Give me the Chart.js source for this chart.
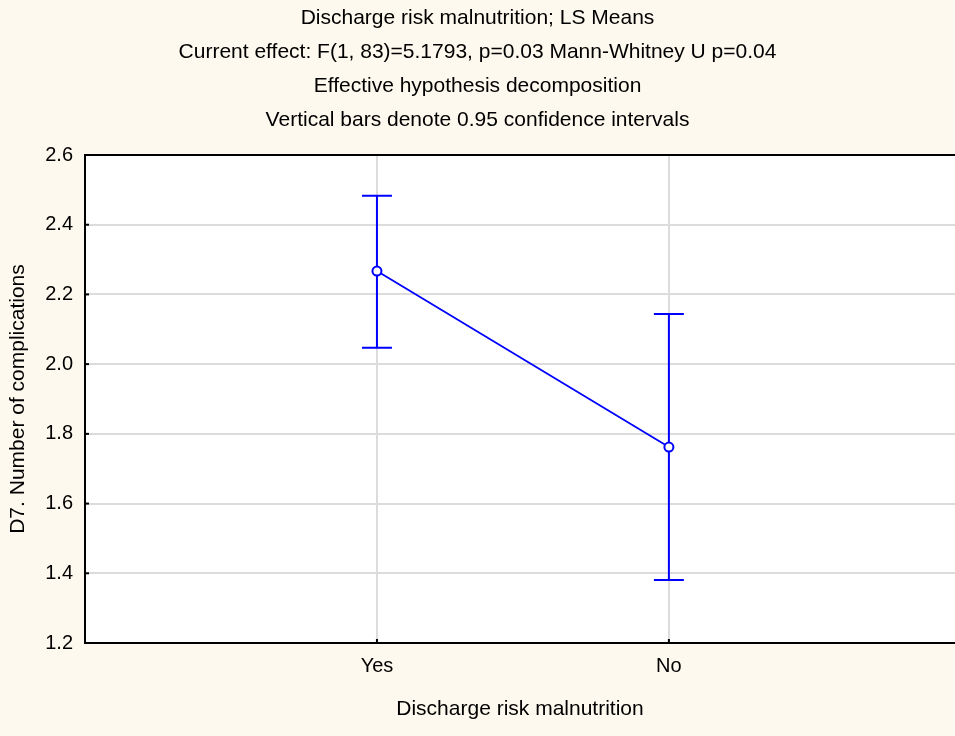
<!DOCTYPE html>
<html>
<head>
<meta charset="utf-8">
<title>Discharge risk malnutrition; LS Means</title>
<script src="https://cdn.jsdelivr.net/npm/chart.js@4/dist/chart.umd.min.js"></script>
<style>
  html, body { margin: 0; padding: 0; background: #fef9ee; }
  #wrap { width: 955px; height: 736px; }
</style>
</head>
<body>
<div id="wrap"><canvas id="lsMeans" width="955" height="736"></canvas></div>
<script>
// groups and LS means with 95% confidence limits
const categorias = ['Yes', 'No'];
const medias = [2.267, 1.762];
const limInferior = [2.047, 1.381];
const limSuperior = [2.483, 2.144];

const tituloLineas = [
    'Discharge risk malnutrition; LS Means',
    'Current effect: F(1, 83)=5.1793, p=0.03 Mann-Whitney U p=0.04',
    'Effective hypothesis decomposition',
    'Vertical bars denote 0.95 confidence intervals'
];

const fuente = '"Liberation Sans", Arial, sans-serif';
const azul = '#0000ff';

// white plot area, black frame, inner tick marks and the confidence bars
const marcoPlugin = {
    id: 'marco',
    beforeDraw(chart) {
        const { ctx, chartArea: a } = chart;
        ctx.save();
        ctx.fillStyle = '#ffffff';
        ctx.fillRect(a.left, a.top, a.right - a.left, a.bottom - a.top);
        ctx.restore();
    },
    beforeDatasetsDraw(chart) {
        const { ctx, chartArea: a, scales } = chart;
        ctx.save();
        ctx.strokeStyle = '#000000';
        ctx.lineWidth = 2;
        ctx.beginPath();
        ctx.moveTo(a.right, a.top);
        ctx.lineTo(a.left, a.top);
        ctx.lineTo(a.left, a.bottom);
        ctx.lineTo(a.right, a.bottom);
        ctx.stroke();

        // short ticks pointing into the plot
        scales.y.ticks.forEach(t => {
            const py = scales.y.getPixelForValue(t.value);
            ctx.beginPath();
            ctx.moveTo(a.left, py);
            ctx.lineTo(a.left + 4, py);
            ctx.stroke();
        });
        scales.x.ticks.forEach(t => {
            const px = scales.x.getPixelForValue(t.value);
            ctx.beginPath();
            ctx.moveTo(px, a.bottom);
            ctx.lineTo(px, a.bottom - 4);
            ctx.stroke();
        });

        // confidence intervals
        ctx.strokeStyle = azul;
        ctx.lineWidth = 2;
        const cap = 15;
        categorias.forEach((c, i) => {
            const px = scales.x.getPixelForValue(i + 1);
            const yLo = scales.y.getPixelForValue(limInferior[i]);
            const yHi = scales.y.getPixelForValue(limSuperior[i]);
            ctx.beginPath();
            ctx.moveTo(px, yLo);
            ctx.lineTo(px, yHi);
            ctx.moveTo(px - cap, yHi);
            ctx.lineTo(px + cap, yHi);
            ctx.moveTo(px - cap, yLo);
            ctx.lineTo(px + cap, yLo);
            ctx.stroke();
        });
        ctx.restore();
    }
};

const ctx = document.getElementById('lsMeans').getContext('2d');
new Chart(ctx, {
    type: 'line',
    data: {
        datasets: [{
            label: 'LS Means',
            data: categorias.map((c, i) => ({ x: i + 1, y: medias[i] })),
            borderColor: azul,
            borderWidth: 1.8,
            pointRadius: 4.5,
            pointBorderWidth: 2,
            pointBorderColor: azul,
            pointBackgroundColor: '#ffffff',
            tension: 0
        }]
    },
    options: {
        responsive: false,
        animation: false,
        layout: { autoPadding: false, padding: 0 },
        plugins: {
            legend: { display: false },
            tooltip: { enabled: false },
            title: {
                display: true,
                text: tituloLineas,
                color: '#000000',
                font: { family: fuente, size: 21, weight: 'normal', lineHeight: '34px' },
                padding: { top: 1, bottom: 18 }
            }
        },
        scales: {
            x: {
                type: 'linear',
                min: 0,
                max: 2.98,
                afterBuildTicks: s => { s.ticks = categorias.map((c, i) => ({ value: i + 1 })); },
                afterFit: s => { s.height = 93; },
                ticks: {
                    callback: v => categorias[v - 1],
                    color: '#000000',
                    font: { family: fuente, size: 20 },
                    padding: 11,
                    maxRotation: 0
                },
                grid: { color: '#dcdcdc', lineWidth: 2, drawTicks: false },
                border: { display: false },
                title: {
                    display: true,
                    text: 'Discharge risk malnutrition',
                    color: '#000000',
                    font: { family: fuente, size: 21 },
                    padding: { top: 0, bottom: 14 }
                }
            },
            y: {
                min: 1.2,
                max: 2.6,
                afterFit: s => { s.width = 85; },
                ticks: {
                    stepSize: 0.2,
                    callback: v => v.toFixed(1),
                    color: '#000000',
                    font: { family: fuente, size: 20 },
                    padding: 12
                },
                grid: { color: '#dcdcdc', lineWidth: 2, drawTicks: false },
                border: { display: false },
                title: {
                    display: true,
                    text: 'D7. Number of complications',
                    color: '#000000',
                    font: { family: fuente, size: 21 },
                    padding: { top: 6, bottom: 0 }
                }
            }
        }
    },
    plugins: [marcoPlugin]
});
</script>
</body>
</html>
